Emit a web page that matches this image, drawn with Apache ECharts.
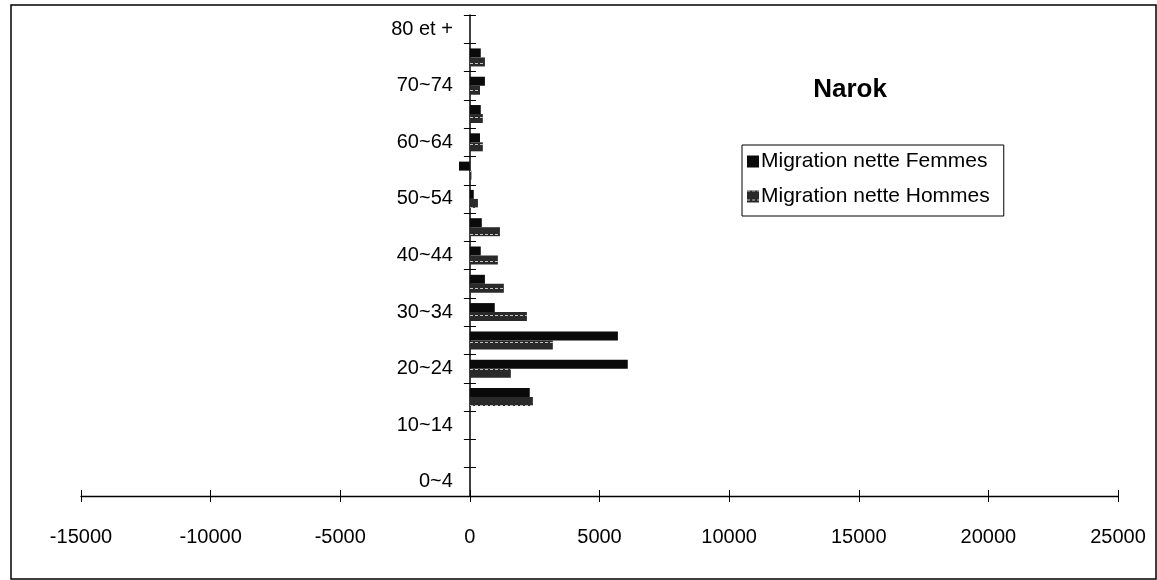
<!DOCTYPE html>
<html><head><meta charset="utf-8">
<script src="https://cdn.jsdelivr.net/npm/echarts@6/dist/echarts.min.js"></script>
<style>html,body{margin:0;padding:0;background:#fff}#c{width:1157px;height:580px}</style>
</head><body><div id="c"></div>
<script>
const categories = ['0~4','5~9','10~14','15~19','20~24','25~29','30~34','35~39','40~44','45~49','50~54','55~59','60~64','65~69','70~74','75~79','80 et +'];
const femmes = [0,0,0,2310,6090,5710,960,580,420,460,150,-420,390,420,580,420,0];
const hommes = [0,0,0,2430,1580,3200,2200,1310,1080,1160,310,60,500,500,390,580,0];
const xTicks = {min:-15000, max:25000, interval:5000};
const title = 'Narok';

const chart = echarts.init(document.getElementById('c'));
const font = 'Arial, "Liberation Sans", sans-serif';
const gridLeft = 81, gridRight = 39;
const plotW = 1157 - gridLeft - gridRight;
const zeroOffset = -plotW * (0 - xTicks.min) / (xTicks.max - xTicks.min);
chart.setOption({
  animation:false,
  graphic:[{type:'rect', shape:{x:11,y:5,width:1145,height:574}, style:{fill:'none',stroke:'#000',lineWidth:1.5}, silent:true}],
  title:{text:title, left:845, top:72, textAlign:'center', textStyle:{fontFamily:font, fontWeight:'bold', fontSize:26, color:'#000'}},
  legend:{orient:'vertical', left:742, top:145, borderColor:'#000', borderWidth:1, padding:[6,14,9,5], itemGap:14,
    itemWidth:12, itemHeight:12, icon:'rect',
    textStyle:{fontFamily:font, fontSize:21, color:'#000', padding:[0,0,0,-3]},
    data:['Migration nette Femmes','Migration nette Hommes']},
  grid:{left:gridLeft, right:gridRight, top:15, bottom:84, containLabel:false},
  xAxis:[{type:'value', min:xTicks.min, max:xTicks.max, interval:xTicks.interval,
    splitLine:{show:false},
    axisLine:{show:true, onZero:false, lineStyle:{color:'#000', width:1.3}},
    axisTick:{show:true, inside:false, length:6, lineStyle:{color:'#000'}},
    axisLabel:{margin:31, fontFamily:font, fontSize:20, color:'#000', formatter:v=>String(v)}},
   {type:'value', position:'bottom', min:xTicks.min, max:xTicks.max, interval:xTicks.interval,
    splitLine:{show:false}, axisLine:{show:false},
    axisTick:{show:true, inside:true, length:6, lineStyle:{color:'#000'}},
    axisLabel:{show:false}}],
  yAxis:[{type:'category', data:categories, position:'left', offset:zeroOffset,
    axisLine:{show:true, onZero:false, lineStyle:{color:'#000', width:1.5}},
    axisTick:{show:true, interval:0, inside:false, length:6, lineStyle:{color:'#000'}},
    axisLabel:{interval:1, margin:17, fontFamily:font, fontSize:20, color:'#000'}},
   {type:'category', data:categories, position:'left', offset:zeroOffset,
    axisLine:{show:false, onZero:false},
    axisTick:{show:true, interval:0, inside:true, length:6, lineStyle:{color:'#000'}},
    axisLabel:{show:false}}],
  series:[
    {name:'Migration nette Femmes', type:'bar', data:femmes, barWidth:9, barGap:'0%', z:1,
      itemStyle:{color:'#0a0a0a'}},
    {name:'Migration nette Hommes', type:'bar', data:hommes, barWidth:9, barGap:'0%', z:1,
      itemStyle:{color:'#2a2a2a',
        decal:{symbol:'rect', color:'rgba(220,220,220,0.85)', dashArrayX:[[3,2]], dashArrayY:[1,8], rotation:0, symbolSize:1}}}
  ]
});
</script></body></html>
